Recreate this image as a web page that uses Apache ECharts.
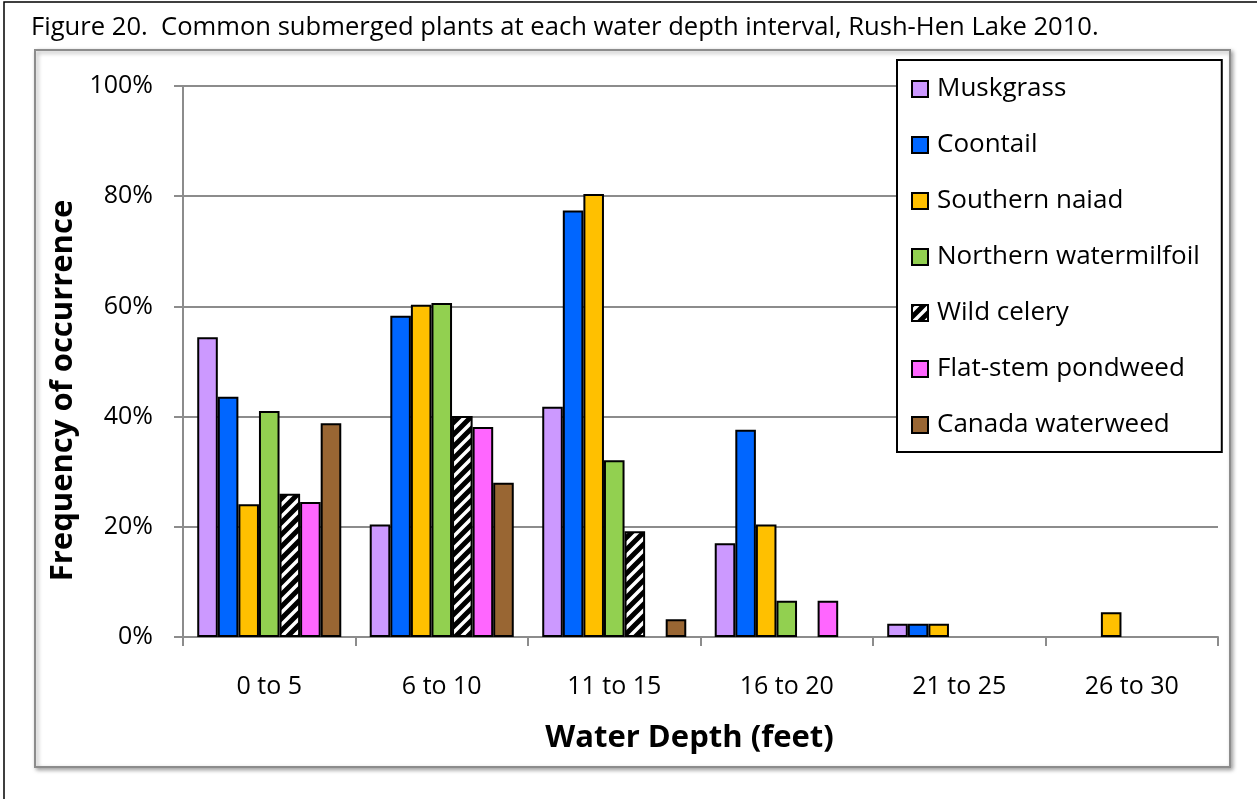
<!DOCTYPE html>
<html>
<head>
<meta charset="utf-8">
<script src="https://cdn.jsdelivr.net/npm/echarts@6/dist/echarts.min.js"></script>
<style>
  html, body { margin: 0; padding: 0; background: #fff; }
  #chart { width: 1257px; height: 799px; }
</style>
</head>
<body>
<div id="chart"></div>
<script>
  var depths = ['0 to 5', '6 to 10', '11 to 15', '16 to 20', '21 to 25', '26 to 30'];
  var muskgrass = [54.4, 20.4, 41.8, 17.0, 2.4, null];
  var coontail = [43.6, 58.3, 77.4, 37.6, 2.4, null];
  var southernNaiad = [24.1, 60.3, 80.4, 20.4, 2.4, 4.5];
  var northernMilfoil = [41.0, 60.6, 32.1, 6.6, null, null];
  var wildCelery = [26.0, 40.1, 19.2, null, null, null];
  var flatStem = [24.5, 38.1, null, 6.6, null, null];
  var canadaWaterweed = [38.8, 28.0, 3.2, null, null, null];

  var font = 'Open Sans';

  // black/white diagonal stripes for wild celery
  function stripes() {
    var n = 12;
    var c = document.createElement('canvas');
    c.width = n;
    c.height = n;
    var ctx = c.getContext('2d');
    ctx.fillStyle = '#fff';
    ctx.fillRect(0, 0, n, n);
    ctx.strokeStyle = '#000';
    ctx.lineWidth = 5;
    ctx.beginPath();
    ctx.moveTo(-n / 2, n / 2); ctx.lineTo(n / 2, -n / 2);
    ctx.moveTo(0, n); ctx.lineTo(n, 0);
    ctx.moveTo(n / 2, n * 1.5); ctx.lineTo(n * 1.5, n / 2);
    ctx.stroke();
    return { image: c, repeat: 'repeat' };
  }

  var seriesDefs = [
    ['Muskgrass', muskgrass, '#CC99FF'],
    ['Coontail', coontail, '#0066FF'],
    ['Southern naiad', southernNaiad, '#FFC000'],
    ['Northern watermilfoil', northernMilfoil, '#92D050'],
    ['Wild celery', wildCelery, stripes()],
    ['Flat-stem pondweed', flatStem, '#FF66FF'],
    ['Canada waterweed', canadaWaterweed, '#996633']
  ];

  var series = seriesDefs.map(function (s) {
    return {
      name: s[0],
      type: 'bar',
      data: s[1],
      barGap: '0%',
      barCategoryGap: '16.5%',
      itemStyle: { color: s[2], borderColor: '#000', borderWidth: 2 }
    };
  });

  var myChart = echarts.init(document.getElementById('chart'), null, { renderer: 'canvas' });

  var option = {
    animation: false,
    backgroundColor: '#fff',
    title: {
      text: 'Figure 20.  Common submerged plants at each water depth interval, Rush-Hen Lake 2010.',
      left: 31,
      top: 15,
      padding: 0,
      textStyle: { fontFamily: font, fontSize: 25.6, fontWeight: 'normal', color: '#000' }
    },
    graphic: [
      { type: 'rect', shape: { x: 4, y: 2, width: 1400, height: 900 }, style: { fill: 'none', stroke: '#000', lineWidth: 1.5 }, z: -10 },
      { type: 'rect', shape: { x: 35, y: 50, width: 1195, height: 717 },
        style: { fill: '#fff', stroke: '#8c8c8c', lineWidth: 2, shadowBlur: 4, shadowOffsetX: 2, shadowOffsetY: 2, shadowColor: 'rgba(0,0,0,0.35)' }, z: -9 }
    ],
    legend: {
      orient: 'vertical',
      left: 897,
      top: 60,
      padding: [16, 22, 14, 14],
      backgroundColor: '#fff',
      borderColor: '#000',
      borderWidth: 2,
      itemWidth: 16,
      itemHeight: 16,
      itemGap: 30,
      icon: 'rect',
      textStyle: { fontFamily: font, fontSize: 26, color: '#000', padding: [0, 0, 0, 4] },
      data: seriesDefs.map(function (s) { return s[0]; })
    },
    grid: { left: 183, right: 39, top: 86, bottom: 162, containLabel: false },
    xAxis: {
      type: 'category',
      data: depths,
      name: 'Water Depth (feet)',
      nameLocation: 'middle',
      nameGap: 86,
      nameTextStyle: { fontFamily: font, fontSize: 31, fontWeight: 'bold', color: '#000', padding: [0, 22, 0, 0] },
      axisLine: { lineStyle: { color: '#8c8c8c', width: 2 } },
      axisTick: { show: true, length: 9, lineStyle: { color: '#8c8c8c', width: 2 } },
      axisLabel: { margin: 37, fontFamily: font, fontSize: 25, color: '#000' }
    },
    yAxis: {
      type: 'value',
      min: 0,
      max: 100,
      interval: 20,
      name: 'Frequency of occurrence',
      nameLocation: 'middle',
      nameGap: 103,
      nameTextStyle: { fontFamily: font, fontSize: 31, fontWeight: 'bold', color: '#000', padding: [0, 58, 0, 0] },
      axisLine: { show: true, lineStyle: { color: '#8c8c8c', width: 2 } },
      axisTick: { show: true, length: 9, lineStyle: { color: '#8c8c8c', width: 2 } },
      splitLine: { lineStyle: { color: '#8c8c8c', width: 2 } },
      axisLabel: { margin: 30, fontFamily: font, fontSize: 25, color: '#000', formatter: '{value}%' }
    },
    series: series
  };

  myChart.setOption(option);
</script>
</body>
</html>
